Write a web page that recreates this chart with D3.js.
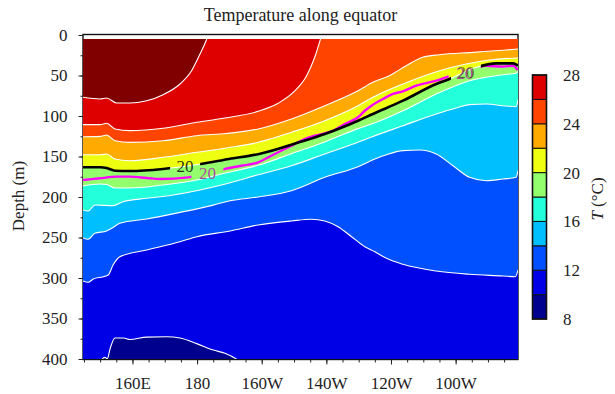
<!DOCTYPE html>
<html>
<head>
<meta charset="utf-8">
<script src="https://cdn.jsdelivr.net/npm/d3@7"></script>
<style>
  body { margin: 0; background: #fff; }
  svg text { font-family: 'Liberation Serif', 'Times New Roman', serif; fill: #222; }
</style>
</head>
<body>
<svg id="chart" width="615" height="394"></svg>
<script>
// isotherm depths along the equator: [longitude (deg E), depth (m)]
// negative / >400 depths mean the isotherm has left the section
const iso10 = [[144.7, 420], [149.5, 415], [150.5, 401], [151.5, 398], [152.2, 400], [153.1, 387], [154.6, 374], [157.2, 374], [159.2, 376], [164.4, 373], [170.6, 372.5], [174.7, 374], [179.9, 381], [185.0, 389], [188.6, 393], [192.8, 402], [197, 420], [279.3, 420]];
const iso12 = [[144.7, 303.7], [146.3, 305.3], [147.9, 301.2], [151.0, 298.4], [152.5, 296.3], [154.0, 284.0], [156.1, 273.7], [164.4, 265.4], [174.7, 255.2], [179.9, 249.0], [190.2, 242.0], [198.9, 234.6], [209.2, 229.6], [215.4, 227.5], [219.5, 229.6], [223.6, 236.7], [227.8, 249.0], [231.9, 261.4], [235.0, 267.5], [238.6, 275.7], [243.7, 283.1], [254.0, 291.4], [264.3, 295.4], [274.6, 297.5], [278.5, 298.4], [279.3, 290.1]];
const iso14 = [[144.7, 250.2], [146.3, 252.2], [148.4, 244.8], [152.0, 241.9], [153.6, 238.6], [156.1, 232.5], [164.4, 227.2], [174.7, 219.0], [185.0, 210.0], [190.2, 204.6], [198.9, 200.0], [209.2, 192.2], [219.5, 175.7], [229.8, 162.6], [235.0, 153.1], [238.6, 147.8], [243.7, 142.8], [248.9, 142.0], [254.0, 146.9], [259.2, 161.4], [264.3, 175.7], [269.5, 179.9], [274.6, 177.8], [278.7, 175.7], [279.3, 167.5]];
const iso16 = [[144.7, 216.0], [146.3, 217.3], [148.4, 209.9], [154.0, 210.7], [157.1, 205.8], [164.4, 201.6], [172.6, 197.5], [188.8, 183.9], [198.9, 172.5], [209.2, 161.4], [219.5, 146.9], [229.8, 132.5], [234.0, 125.9], [243.7, 112.0], [254.0, 97.5], [260.2, 90.1], [264.3, 86.0], [269.5, 85.2], [274.6, 87.3], [278.7, 88.5], [279.3, 80.2]];
const iso18 = [[144.7, 186.4], [150.0, 184.0], [152.0, 184.5], [154.6, 188.9], [159.2, 188.9], [169.4, 185.2], [179.9, 179.0], [188.8, 170.4], [198.9, 160.9], [209.2, 146.5], [219.5, 132.0], [229.8, 115.6], [234.0, 109.9], [243.7, 93.5], [254.0, 72.8], [264.3, 56.4], [274.6, 49.0], [278.7, 47.3], [279.3, 45.0]];
const iso20 = [[144.7, 163.3], [150.0, 163.3], [152.0, 164.2], [154.6, 167.5], [159.2, 167.9], [169.5, 165.4], [181.1, 159.3], [189.9, 153.1], [199.2, 146.9], [211.8, 132.1], [219.5, 122.2], [229.8, 105.8], [234.4, 97.5], [243.7, 81.1], [254.0, 60.5], [258.1, 54.3], [266.4, 39.9], [272.6, 35.0], [277.8, 35.0], [279.3, 37.9]];
const iso22 = [[144.7, 147.8], [150.0, 147.8], [152.0, 146.9], [154.6, 153.1], [159.2, 155.2], [169.5, 151.0], [179.9, 144.8], [189.1, 139.5], [198.9, 132.5], [209.2, 120.1], [219.5, 105.8], [229.8, 87.3], [234.4, 76.9], [243.7, 60.5], [255.0, 44.1], [263.2, 35.8], [270.4, 30.9], [279.3, 28.4]];
const iso24 = [[144.7, 125.6], [150.0, 125.1], [152.0, 123.5], [154.6, 130.5], [159.2, 132.5], [169.5, 130.5], [179.9, 124.3], [189.1, 121.6], [198.9, 116.0], [209.2, 103.7], [219.5, 87.3], [229.8, 68.8], [234.4, 58.4], [239.5, 50.2], [244.7, 37.9], [249.8, 27.5], [255.0, 24.3], [265.3, 21.4], [275.6, 18.5], [279.3, 17.3]];
const iso26 = [[144.7, 110.7], [150.0, 110.7], [152.0, 109.0], [154.6, 116.0], [159.2, 118.1], [169.5, 115.2], [179.9, 107.8], [188.6, 102.5], [198.9, 94.2], [205.1, 84.3], [210.3, 68.8], [213.9, 50.2], [216.4, 27.5], [218.2, 4.9], [220.0, -20], [279.3, -20]];
const iso28 = [[144.7, 76.9], [150.0, 79.0], [152.0, 77.8], [155.1, 84.0], [159.2, 84.0], [164.4, 81.1], [169.5, 73.7], [174.7, 60.5], [178.3, 44.1], [180.9, 23.5], [183.0, 4.9], [185.0, -20], [279.3, -20]];

// 20 degC isotherm of a second data set (magenta)
const magenta20 = [[144.7, 179.0], [150.0, 176.9], [155.1, 174.9], [159.2, 174.9], [164.4, 176.5], [168.5, 177.8], [177.3, 175.7], [187.6, 166.7], [188.6, 165.4], [193.7, 161.4], [198.9, 157.2], [204.0, 146.9], [209.2, 136.7], [213.3, 128.4], [216.4, 124.3], [221.6, 118.9], [225.7, 109.9], [229.8, 101.6], [231.9, 93.5], [234.4, 86.0], [237.5, 79.0], [240.6, 72.8], [243.7, 69.5], [247.8, 62.6], [254.0, 56.4], [257.6, 51.5], [266.4, 40.7], [269.5, 37.9], [274.6, 39.1], [277.8, 37.9], [279.2, 43.2]];

const levels = [10, 12, 14, 16, 18, 20, 22, 24, 26, 28];
const isotherms = [iso10, iso12, iso14, iso16, iso18, iso20, iso22, iso24, iso26, iso28];
// band colours: 8-10, 10-12, ..., 26-28, >28
const bandColors = ['#00008f', '#0000e6', '#0050ff', '#00bfff', '#22ffda', '#94ff6c', '#eeff12', '#ffaa00', '#ff4400', '#de0000', '#800000'];
const cbarLevels = [8, 10, 12, 14, 16, 18, 20, 22, 24, 26, 28];
const cbarTicks = [8, 12, 16, 20, 24, 28];

const xTicks = [160, 180, 200, 220, 240, 260];
const xTickLabels = ['160E', '180', '160W', '140W', '120W', '100W'];
const xMinor = d3.range(145, 280, 5);
const yTicks = [0, 50, 100, 150, 200, 250, 300, 350, 400];
const yMinor = d3.range(0, 401, 25);

const W = 615;
const H = 394;
const FONT = "'Liberation Serif', 'Times New Roman', serif";
const svg = d3.select('#chart');

const x = d3.scaleLinear().domain([144.7, 279.3]).range([83, 518]);
const y = d3.scaleLinear().domain([0, 400]).range([35, 359]);
const dataTop = 5; // first depth level of the section

const defs = svg.append('defs');
defs
  .append('clipPath')
  .attr('id', 'plot-clip')
  .append('rect')
  .attr('x', x(144.7))
  .attr('y', y(dataTop))
  .attr('width', x(279.3) - x(144.7))
  .attr('height', y(400) - y(dataTop));

// frame (mostly hidden under the data)
svg
  .append('rect')
  .attr('x', 83)
  .attr('y', 34.5)
  .attr('width', 435)
  .attr('height', 325)
  .attr('fill', 'none')
  .attr('stroke', '#111')
  .attr('stroke-width', 1.4);

const plot = svg.append('g').attr('clip-path', 'url(#plot-clip)');

plot
  .append('rect')
  .attr('x', x(144.7))
  .attr('y', y(dataTop))
  .attr('width', x(279.3) - x(144.7))
  .attr('height', y(400) - y(dataTop))
  .attr('fill', bandColors[0]);

const area = d3
  .area()
  .x(d => x(d[0]))
  .y0(y(-60))
  .y1(d => y(d[1]))
  .curve(d3.curveMonotoneX);

const line = d3
  .line()
  .x(d => x(d[0]))
  .y(d => y(d[1]))
  .curve(d3.curveMonotoneX);

plot
  .selectAll('path.band')
  .data(isotherms)
  .enter()
  .append('path')
  .attr('class', 'band')
  .attr('d', area)
  .attr('fill', (d, i) => bandColors[i + 1]);

plot
  .selectAll('path.iso')
  .data(isotherms)
  .enter()
  .append('path')
  .attr('class', 'iso')
  .attr('d', line)
  .attr('fill', 'none')
  .attr('stroke', '#fff')
  .attr('stroke-width', 1.1);

// contour labels; the highlighted lines are broken where they sit
const blackLabels = [
  { lon: 176.3, depth: 161.5 },
  { lon: 263.2, depth: 46 }
];
const magentaLabels = [
  { lon: 183.2, depth: 170.5 },
  { lon: 262.8, depth: 46.5 }
];

function gapMask(id, labels, gapW) {
  const m = defs
    .append('mask')
    .attr('id', id)
    .attr('maskUnits', 'userSpaceOnUse')
    .attr('x', 0)
    .attr('y', 0)
    .attr('width', W)
    .attr('height', H);
  m.append('rect').attr('width', W).attr('height', H).attr('fill', '#fff');
  labels.forEach(l => {
    m.append('rect')
      .attr('x', x(l.lon) - gapW / 2)
      .attr('y', y(l.depth) - 13)
      .attr('width', gapW)
      .attr('height', 26)
      .attr('fill', '#000');
  });
}
gapMask('gap-black', blackLabels, 30);
gapMask('gap-magenta', magentaLabels, 32);

plot
  .append('path')
  .datum(magenta20)
  .attr('d', line)
  .attr('fill', 'none')
  .attr('stroke', '#ff00ff')
  .attr('stroke-width', 2.4)
  .attr('mask', 'url(#gap-magenta)');

plot
  .append('path')
  .datum(iso20)
  .attr('d', line)
  .attr('fill', 'none')
  .attr('stroke', '#000')
  .attr('stroke-width', 2.6)
  .attr('mask', 'url(#gap-black)');

svg
  .selectAll('text.mlabel')
  .data(magentaLabels)
  .enter()
  .append('text')
  .attr('class', 'mlabel')
  .attr('x', d => x(d.lon))
  .attr('y', d => y(d.depth))
  .attr('dy', '0.35em')
  .attr('text-anchor', 'middle')
  .attr('font-family', FONT)
  .attr('font-size', 17)
  .style('fill', '#a8509f')
  .text('20');

svg
  .selectAll('text.blabel')
  .data(blackLabels)
  .enter()
  .append('text')
  .attr('class', 'blabel')
  .attr('x', d => x(d.lon))
  .attr('y', d => y(d.depth))
  .attr('dy', '0.35em')
  .attr('text-anchor', 'middle')
  .attr('font-family', FONT)
  .attr('font-size', 17)
  .style('fill', '#111')
  .style('fill-opacity', (d, i) => (i === 1 ? 0.55 : 0.9))
  .text('20');

// axes
function styleAxis(g) {
  g.select('.domain').remove();
  g.attr('font-family', FONT).attr('font-size', 17).attr('color', '#222');
  g.selectAll('text').attr('font-family', FONT);
}

svg
  .append('g')
  .attr('transform', 'translate(83,0)')
  .call(d3.axisLeft(y).tickValues(yMinor).tickSize(2.5).tickFormat(''))
  .call(styleAxis);
svg
  .append('g')
  .attr('transform', 'translate(83,0)')
  .call(d3.axisLeft(y).tickValues(yTicks).tickSize(4.5).tickPadding(11))
  .call(styleAxis);

svg
  .append('g')
  .attr('transform', 'translate(0,360)')
  .call(d3.axisBottom(x).tickValues(xMinor).tickSize(2.5).tickFormat(''))
  .call(styleAxis);
svg
  .append('g')
  .attr('transform', 'translate(0,360)')
  .call(
    d3
      .axisBottom(x)
      .tickValues(xTicks)
      .tickSize(4.5)
      .tickPadding(12)
      .tickFormat((d, i) => xTickLabels[i])
  )
  .call(styleAxis);

svg
  .append('text')
  .attr('x', 300.5)
  .attr('y', 21)
  .attr('text-anchor', 'middle')
  .attr('font-family', FONT)
  .attr('font-size', 18)
  .text('Temperature along equator');

svg
  .append('text')
  .attr('transform', 'translate(24,196) rotate(-90)')
  .attr('text-anchor', 'middle')
  .attr('font-family', FONT)
  .attr('font-size', 17)
  .text('Depth (m)');

// colour bar
const cb = d3.scaleLinear().domain([8, 28]).range([319, 75]);
const cbX = 532.5;
const cbW = 14;
const cbar = svg.append('g');
cbar
  .selectAll('rect.cband')
  .data(cbarLevels.slice(0, -1))
  .enter()
  .append('rect')
  .attr('class', 'cband')
  .attr('x', cbX)
  .attr('y', d => cb(d + 2))
  .attr('width', cbW)
  .attr('height', d => cb(d) - cb(d + 2))
  .attr('fill', (d, i) => bandColors[i])
  .attr('stroke', '#111')
  .attr('stroke-width', 1);
cbar
  .append('rect')
  .attr('x', cbX)
  .attr('y', cb(28))
  .attr('width', cbW)
  .attr('height', cb(8) - cb(28))
  .attr('fill', 'none')
  .attr('stroke', '#111')
  .attr('stroke-width', 1.6);
cbar
  .selectAll('text')
  .data(cbarTicks)
  .enter()
  .append('text')
  .attr('x', 563)
  .attr('y', d => cb(d))
  .attr('dy', '0.35em')
  .attr('font-family', FONT)
  .attr('font-size', 17)
  .text(d => d);

const cbLabel = svg
  .append('text')
  .attr('transform', 'translate(603,199) rotate(-90)')
  .attr('text-anchor', 'middle')
  .attr('font-family', FONT)
  .attr('font-size', 17);
cbLabel.append('tspan').style('font-style', 'italic').text('T');
cbLabel.append('tspan').text(' (°C)');
</script>
</body>
</html>
